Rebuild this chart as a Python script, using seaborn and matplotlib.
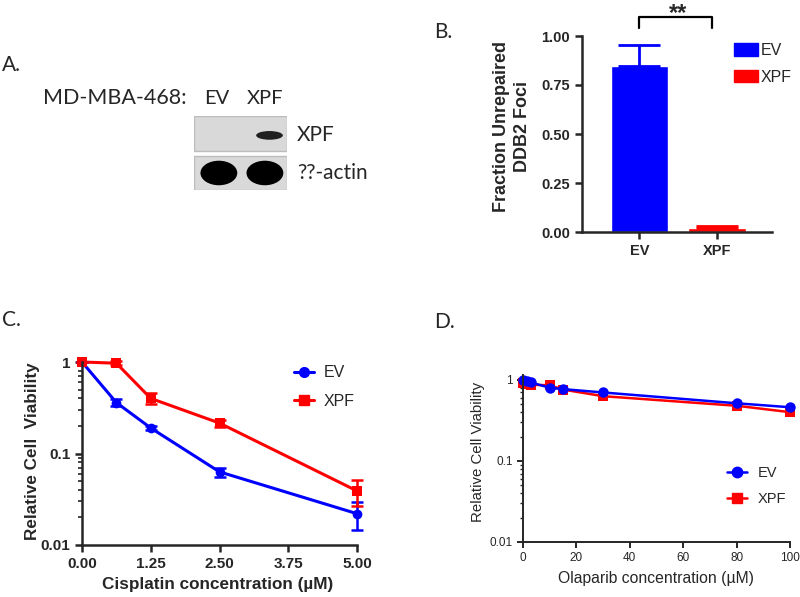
import pandas as pd
import matplotlib
matplotlib.use("Agg")
import matplotlib.pyplot as plt
import seaborn as sns
from matplotlib.patches import Ellipse, Rectangle, Patch
from matplotlib.lines import Line2D
from matplotlib.ticker import FixedLocator, NullFormatter


# ---- data ----
groups = ["EV", "XPF"]
colors = {"EV": "#0000ff", "XPF": "#ff0000"}

# A. western blot, band intensity per lane (0 = none, 1 = saturated)
blot_rows = ["XPF", "??-actin"]
xpf_band = [0.0, 0.85]
actin_band = [1.0, 1.0]

# B. fraction unrepaired DDB2 foci
foci_mean = [0.845, 0.02]
foci_err = [0.11, 0.013]

# C. cisplatin
cis_conc = [0.0, 0.625, 1.25, 2.5, 5.0]
cis_ev = [1.0, 0.36, 0.19, 0.063, 0.022]
cis_ev_err = [0.0, 0.03, 0.008, 0.007, 0.0075]
cis_xpf = [1.0, 0.97, 0.40, 0.215, 0.039]
cis_xpf_err = [0.0, 0.05, 0.055, 0.02, 0.012]
cis_xticks = [0.0, 1.25, 2.5, 3.75, 5.0]

# D. olaparib
ola_conc = [0, 1.5, 3, 10, 15, 30, 80, 100]
ola_ev = [1.0, 0.97, 0.93, 0.80, 0.77, 0.70, 0.515, 0.46]
ola_xpf = [0.92, 0.90, 0.87, 0.86, 0.76, 0.63, 0.48, 0.40]

log_ticks = [0.01, 0.1, 1]
log_labels = ["0.01", "0.1", "1"]


W, H = 800, 597


def box(l, t, r, b):
    return [l / W, 1 - b / H, (r - l) / W, (b - t) / H]


def fx(x):
    return x / W


def fy(y):
    return 1 - y / H


sns.set_style("ticks")
plt.rcParams["font.family"] = ["Liberation Sans", "DejaVu Sans"]

fig = plt.figure(figsize=(8, 5.97), dpi=100)

label_font = ["Lato", "DejaVu Sans"]

# ---- A. blot ----
fig.text(fx(2), fy(65), "A.", fontsize=15, family=label_font, va="center")
fig.text(fx(43), fy(98), "MD-MBA-468:", fontsize=15.5, family=label_font, va="center")
fig.text(fx(217), fy(98), "EV", fontsize=14.5, family=label_font, va="center", ha="center")
fig.text(fx(265), fy(98), "XPF", fontsize=14.5, family=label_font, va="center", ha="center")

axA = fig.add_axes(box(194, 116, 287, 190))
axA.set_xlim(-0.54, 1.48)
axA.set_ylim(1.43, -0.44)
axA.axis("off")
for r, (name, bands) in enumerate(zip(blot_rows, [xpf_band, actin_band])):
    axA.add_patch(Rectangle((-0.54, r - 0.44), 2.02, 0.88, facecolor="#d9d9d9",
                            edgecolor="#bcbcbc", lw=1))
    for lane, val in enumerate(bands):
        if val <= 0:
            continue
        if r == 0:
            e = Ellipse((lane + 0.1, r + 0.05), 0.58, 0.22, color="black", alpha=val, lw=0)
        else:
            e = Ellipse((lane, r), 0.8, 0.62, color="black", alpha=val, lw=0)
        axA.add_patch(e)
    fig.text(fx(297), fy(135 + r * 38), name, fontsize=15, family=label_font, va="center")

# ---- B. bar chart ----
fig.text(fx(434), fy(32), "B.", fontsize=15, family=label_font, va="center")
axB = fig.add_axes(box(582, 36, 772, 232))
df_b = pd.DataFrame({"group": groups, "value": foci_mean})
sns.barplot(data=df_b, x="group", y="value", hue="group", palette=colors,
            width=0.74, saturation=1, errorbar=None, legend=False, ax=axB)
for i, g in enumerate(groups):
    axB.errorbar(i, foci_mean[i], yerr=[[0], [foci_err[i]]], fmt="none",
                 ecolor=colors[g], elinewidth=2, capsize=15, capthick=2)
axB.set_xlim(-0.742, 1.71)
axB.set_ylim(0, 1.0)
axB.set_yticks([0, 0.25, 0.5, 0.75, 1.0])
axB.set_yticklabels(["0.00", "0.25", "0.50", "0.75", "1.00"])
axB.set_xlabel("")
axB.set_ylabel("")
sns.despine(ax=axB)
for s in ["left", "bottom"]:
    axB.spines[s].set_linewidth(1.8)
axB.tick_params(labelsize=10.5, width=1.8, length=5)
plt.setp(axB.get_xticklabels(), fontweight="bold")
plt.setp(axB.get_yticklabels(), fontweight="bold")
# significance bracket
axB.plot([0, 0, 0.93, 0.93], [1.04, 1.095, 1.095, 1.04], color="black", lw=1.6, clip_on=False)
axB.text(0.5, 1.175, "**", ha="center", va="top", fontsize=17, fontweight="bold",
         clip_on=False)
fig.text(fx(512), fy(127), "Fraction Unrepaired\nDDB2 Foci", rotation=90, ha="center",
         va="center", fontsize=13, fontweight="bold", linespacing=1.25)
hb = [Patch(facecolor=colors[g], edgecolor=colors[g]) for g in groups]
fig.legend(hb, groups, loc="upper left", bbox_to_anchor=(fx(720), fy(29)), frameon=False,
           fontsize=11.5, handlelength=1.45, handleheight=0.85, labelspacing=0.7,
           handletextpad=0.2)

# ---- C. cisplatin ----
fig.text(fx(2), fy(320), "C.", fontsize=15, family=label_font, va="center")
axC = fig.add_axes(box(82, 362, 357, 545))
df_c = pd.DataFrame({
    "conc": cis_conc * 2,
    "viability": cis_ev + cis_xpf,
    "group": ["EV"] * len(cis_conc) + ["XPF"] * len(cis_conc),
})
sns.lineplot(data=df_c, x="conc", y="viability", hue="group", style="group",
             markers={"EV": "o", "XPF": "s"}, dashes=False, palette=colors,
             lw=2.2, markersize=7, markeredgewidth=0, legend=False, ax=axC, clip_on=False)
axC.errorbar(cis_conc, cis_ev, yerr=cis_ev_err, fmt="none", ecolor=colors["EV"],
             elinewidth=1.8, capsize=4, capthick=1.8, clip_on=False)
axC.errorbar(cis_conc, cis_xpf, yerr=cis_xpf_err, fmt="none", ecolor=colors["XPF"],
             elinewidth=1.8, capsize=4, capthick=1.8, clip_on=False)
axC.set_yscale("log")
axC.set_ylim(0.01, 1)
axC.set_xlim(0, 5)
axC.yaxis.set_major_locator(FixedLocator(log_ticks))
axC.set_yticklabels(log_labels)
axC.yaxis.set_minor_formatter(NullFormatter())
axC.set_xticks(cis_xticks)
axC.set_xticklabels(["%.2f" % v for v in cis_xticks])
axC.set_xlabel("")
axC.set_ylabel("")
sns.despine(ax=axC)
for s in ["left", "bottom"]:
    axC.spines[s].set_linewidth(1.8)
axC.tick_params(labelsize=11, width=1.8, length=5)
axC.tick_params(which="minor", width=1.2, length=3)
plt.setp(axC.get_xticklabels(), fontweight="bold")
plt.setp(axC.get_yticklabels(), fontweight="bold")
fig.text(fx(33), fy(451), "Relative Cell  Viability", rotation=90, ha="center",
         va="center", fontsize=12.3, fontweight="bold")
fig.text(fx(218), fy(585), "Cisplatin concentration (µM)", ha="center", va="center",
         fontsize=12.3, fontweight="bold")
hc = [Line2D([], [], color=colors["EV"], marker="o", lw=2.2, ms=7),
      Line2D([], [], color=colors["XPF"], marker="s", lw=2.2, ms=7)]
fig.legend(hc, groups, loc="upper left", bbox_to_anchor=(fx(280), fy(351)), frameon=False,
           fontsize=11.5, handlelength=1.25, labelspacing=0.85, handletextpad=0.6)

# ---- D. olaparib ----
fig.text(fx(434), fy(322), "D.", fontsize=15, family=label_font, va="center")
axD = fig.add_axes(box(523, 375, 790, 542))
df_d = pd.DataFrame({
    "conc": ola_conc * 2,
    "viability": ola_ev + ola_xpf,
    "group": ["EV"] * len(ola_conc) + ["XPF"] * len(ola_conc),
})
# XPF drawn first so EV sits on top
sns.lineplot(data=df_d, x="conc", y="viability", hue="group", style="group",
             hue_order=["XPF", "EV"], markers={"EV": "o", "XPF": "s"}, dashes=False,
             palette=colors, lw=1.8, markersize=7.5, markeredgewidth=0, legend=False,
             ax=axD, clip_on=False)
axD.set_yscale("log")
axD.set_ylim(0.01, 1.15)
axD.set_xlim(0, 100)
axD.yaxis.set_major_locator(FixedLocator(log_ticks))
axD.set_yticklabels(log_labels)
axD.yaxis.set_minor_formatter(NullFormatter())
axD.set_xticks([0, 20, 40, 60, 80, 100])
axD.set_xlabel("")
axD.set_ylabel("")
sns.despine(ax=axD)
for s in ["left", "bottom"]:
    axD.spines[s].set_linewidth(1.4)
axD.tick_params(labelsize=8.5, width=1.4, length=4)
axD.tick_params(which="minor", width=1, length=2.5)
fig.text(fx(478), fy(452), "Relative Cell Viability", rotation=90, ha="center",
         va="center", fontsize=10.8)
fig.text(fx(656), fy(578), "Olaparib concentration (µM)", ha="center", va="center",
         fontsize=11.3)
hd = [Line2D([], [], color=colors["EV"], marker="o", lw=1.8, ms=7.5),
      Line2D([], [], color=colors["XPF"], marker="s", lw=1.8, ms=7.5)]
fig.legend(hd, groups, loc="upper left", bbox_to_anchor=(fx(714), fy(453)), frameon=False,
           fontsize=10.5, handlelength=1.37, labelspacing=0.8, handletextpad=0.7)

fig.savefig("out.png", dpi=100)
plt.close(fig)
